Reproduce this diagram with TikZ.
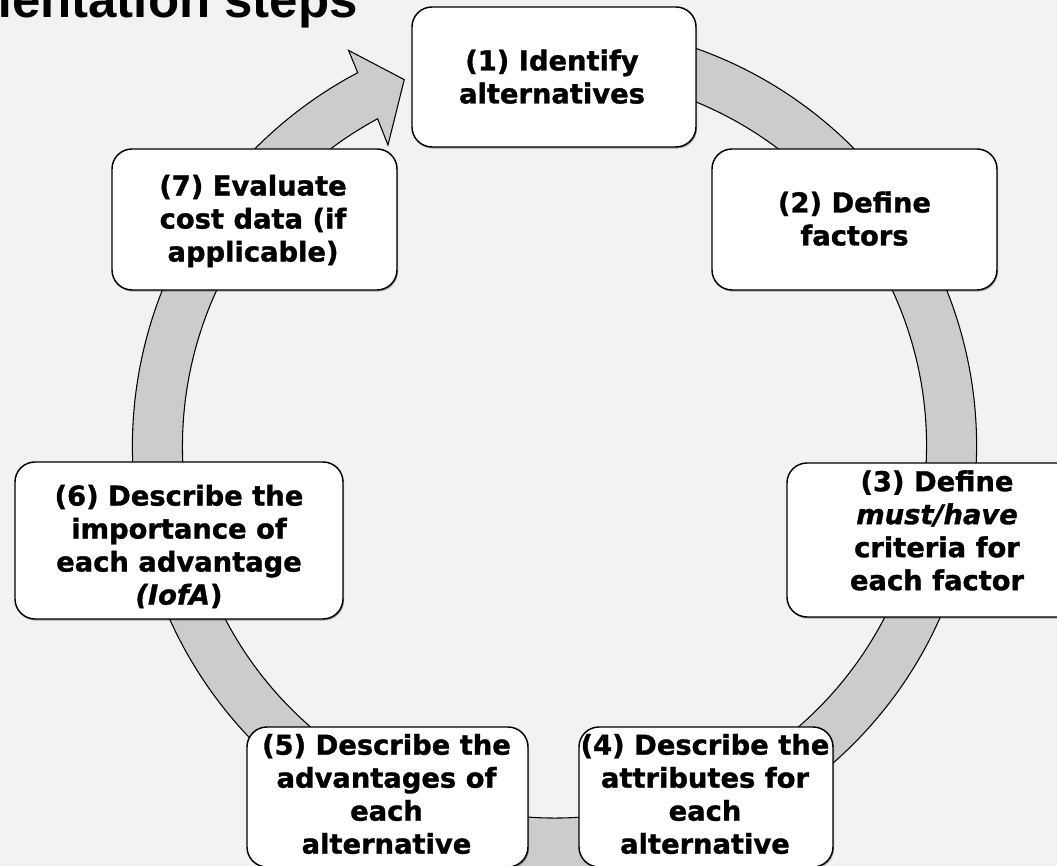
\documentclass[tikz,border=0pt]{standalone}
\usepackage{fontspec}
\setmainfont{DejaVu Sans}[BoldFeatures={FakeBold=1.2},BoldItalicFeatures={FakeBold=1.2}]
\newfontfamily\titlefont{Liberation Sans}
\usetikzlibrary{shadows}
\definecolor{bg}{HTML}{F2F2F2}
\definecolor{bandgray}{HTML}{CCCCCC}
\tikzset{
  stepbox/.style={draw=black, line width=1.1pt, fill=white, rounded corners=15pt, inner sep=0pt,
    drop shadow={shadow xshift=0.8pt, shadow yshift=-1.2pt, opacity=0.3, fill=black}},
  steptext/.style={align=center, inner sep=0pt, font=\fontsize{20.5}{24.75}\selectfont\bfseries},
  band/.style={fill=bandgray, draw=black, line width=0.8pt, line join=miter},
}
\begin{document}
\begin{tikzpicture}[x=0.75pt,y=0.75pt]
\useasboundingbox (0,0) rectangle (1057,866);
\fill[bg] (0,0) rectangle (1057,866);
\node[anchor=base east, inner sep=0pt, font=\titlefont\fontsize{38.25}{44}\selectfont\bfseries] (title) at (358,848) {Implementation steps};
\begin{scope}[shift={(554.5,420)}]
\draw[band] (75:422) arc[start angle=75,end angle=-242.2,radius=422]
  -- (-242.5:446) -- (-247.7:396) -- (-241.05:344) -- (-241.6:372)
  arc[start angle=-241.6,end angle=75,radius=372] -- cycle;
\end{scope}
% boxes
\node[stepbox, minimum width=213pt, minimum height=105pt] (b1) at (554,789) {};
\node[stepbox, minimum width=213.75pt, minimum height=105.75pt] (b2) at (854.5,646.5) {};
\node[stepbox, minimum width=227.25pt, minimum height=115.5pt] (b3) at (938.5,326) {};
\node[stepbox, minimum width=190.5pt, minimum height=105pt] (b4) at (706,69) {};
\node[stepbox, minimum width=210.75pt, minimum height=105pt] (b5) at (387.5,69) {};
\node[stepbox, minimum width=246pt, minimum height=117.75pt] (b6) at (179,325.5) {};
\node[stepbox, minimum width=213.75pt, minimum height=105.75pt] (b7) at (254.5,646.5) {};
% texts
\node[steptext] (t1) at (552,789.25) {(1) Identify\\alternatives};
\node[steptext] (t2) at (854.5,647.25) {(2) Define\\factors};
\node[steptext] (t3) at (937,335.5) {(3) Define\\\textit{must/have}\\criteria for\\each factor};
\node[steptext] (t4) at (705,72) {(4) Describe the\\attributes for\\each\\alternative};
\node[steptext] (t5) at (386.5,72) {(5) Describe the\\advantages of\\each\\alternative};
\node[steptext] (t6) at (179,319.5) {(6) Describe the\\importance of\\each advantage\\\textit{(IofA})};
\node[steptext] (t7) at (253,645) {(7) Evaluate\\cost data (if\\applicable)};
\end{tikzpicture}
\end{document}
